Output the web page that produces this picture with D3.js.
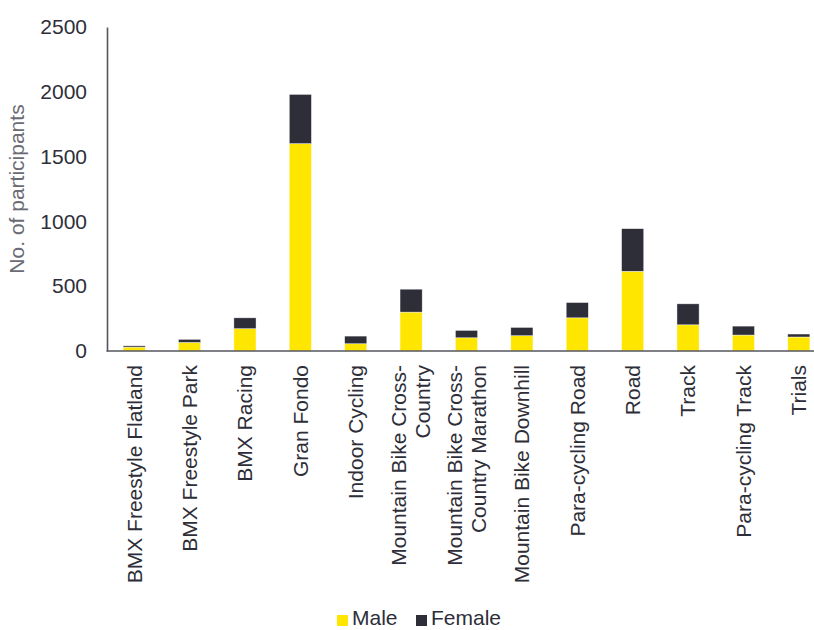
<!DOCTYPE html>
<html>
<head>
<meta charset="utf-8">
<script src="https://cdn.jsdelivr.net/npm/d3@7"></script>
<style>
  html, body { margin: 0; padding: 0; background: #fff; }
  svg { display: block; font-family: "Liberation Sans", Arial, sans-serif; }
</style>
</head>
<body>
<svg id="chart" width="814" height="630"></svg>
<script>
const categories = [
  "BMX Freestyle Flatland", "BMX Freestyle Park", "BMX Racing", "Gran Fondo",
  "Indoor Cycling", "Mountain Bike Cross-Country", "Mountain Bike Cross-Country Marathon",
  "Mountain Bike Downhill", "Para-cycling Road", "Road", "Track",
  "Para-cycling Track", "Trials"
];
const maleValues   = [30, 66, 172, 1600, 56, 300, 102, 118, 256, 615, 202, 123, 108];
const femaleValues = [10, 24, 84, 380, 59, 177, 57, 64, 118, 329, 162, 69, 23];
const seriesNames = ["Male", "Female"];
const seriesColors = ["#FFE600", "#2E2E38"];
const yTicks = [0, 500, 1000, 1500, 2000, 2500];

const svg = d3.select("#chart");
const textDark = "#2E2E38";

const x = d3.scaleBand().domain(categories).range([106.5, 826.5])
  .paddingInner(0.6).paddingOuter(0.3);
const y = d3.scaleLinear().domain([0, 2500]).range([351, 27]);

const table = categories.map((c, i) => ({ cat: c, Male: maleValues[i], Female: femaleValues[i] }));
const stacked = d3.stack().keys(seriesNames)(table);

// bars
svg.append("g").selectAll("g").data(stacked).join("g")
  .attr("fill", (d, i) => seriesColors[i])
  .selectAll("rect").data(d => d).join("rect")
  .attr("x", d => x(d.data.cat))
  .attr("y", d => y(d[1]))
  .attr("width", x.bandwidth())
  .attr("height", d => y(d[0]) - y(d[1]))
  .attr("stroke", "rgba(255,255,255,0.7)")
  .attr("stroke-width", 0.6);

// y axis
const yAxis = d3.axisLeft(y).tickValues(yTicks).tickSize(0).tickPadding(20).tickFormat(d3.format("d"));
const gy = svg.append("g").attr("transform", "translate(107,0)").call(yAxis);
gy.select(".domain").attr("stroke", "#55555e").attr("stroke-width", 1.6);
gy.selectAll("text").attr("font-size", 21).attr("fill", textDark)
  .attr("font-family", "Liberation Sans, Arial, sans-serif");

// x axis baseline
const xAxis = d3.axisBottom(x).tickSize(0).tickFormat("");
const gx = svg.append("g").attr("transform", "translate(0,351)").call(xAxis);
gx.select(".domain").attr("stroke", "#55555e").attr("stroke-width", 1.6)
  .attr("d", "M106.5,0H814");

// category labels (rotated)
function splitLabel(s) {
  const k = s.indexOf("Cross-");
  if (k >= 0) return [s.slice(0, k + 6), s.slice(k + 6)];
  return [s];
}
const lblG = svg.append("g");
categories.forEach(c => {
  const lines = splitLabel(c);
  const cx = x(c) + x.bandwidth() / 2;
  const t = lblG.append("text")
    .attr("transform", `translate(${cx},365) rotate(-90)`)
    .attr("text-anchor", "end")
    .attr("font-size", 21)
    .attr("fill", textDark);
  lines.forEach((ln, i) => {
    t.append("tspan").attr("x", 0)
      .attr("y", (i - (lines.length - 1) / 2) * 24)
      .attr("dy", "0.35em")
      .text(ln);
  });
});

// y axis title
svg.append("text")
  .attr("transform", "translate(24,189) rotate(-90)")
  .attr("text-anchor", "middle")
  .attr("font-size", 21)
  .attr("fill", "#6b6b74")
  .text("No. of participants");

// legend
const legendX = [337, 416];
seriesNames.forEach((name, i) => {
  svg.append("rect").attr("x", legendX[i]).attr("y", 615).attr("width", 11).attr("height", 11)
    .attr("fill", seriesColors[i]);
  svg.append("text").attr("x", legendX[i] + 15).attr("y", 625)
    .attr("font-size", 21).attr("fill", textDark).text(name);
});
</script>
</body>
</html>
